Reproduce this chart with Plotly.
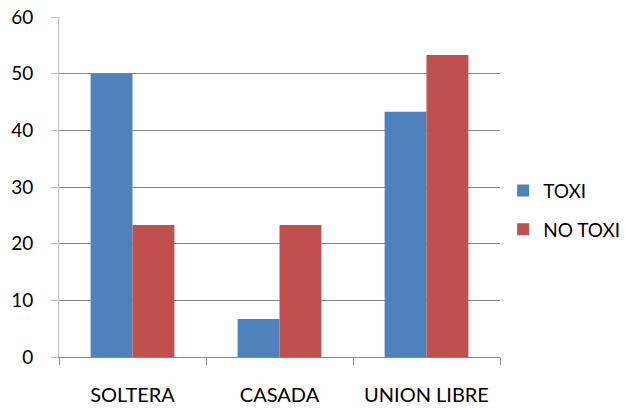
import plotly.graph_objects as go

categories = ["SOLTERA", "CASADA", "UNION LIBRE"]
toxi = [50.0, 6.7, 43.3]
no_toxi = [23.3, 23.3, 53.3]
y_ticks = [0, 10, 20, 30, 40, 50, 60]

FONT = "Lato, Liberation Sans, sans-serif"

fig = go.Figure()
fig.add_trace(go.Bar(x=categories, y=toxi, name="TOXI", marker_color="#4F81BD",
                     marker_line_width=0, legendgroup="a"))
fig.add_trace(go.Bar(x=categories, y=no_toxi, name="NO TOXI", marker_color="#C0504D",
                     marker_line_width=0, legendgroup="b"))

fig.update_layout(
    width=625, height=408,
    margin=dict(l=59, r=125, t=17, b=51, autoexpand=False),
    paper_bgcolor="white", plot_bgcolor="white",
    barmode="group", bargap=0.43, bargroupgap=0,
    font=dict(family=FONT, size=19, color="black"),
    legend=dict(xref="container", yref="container", x=0.805, y=0.485,
                xanchor="left", yanchor="middle",
                traceorder="grouped", tracegroupgap=11,
                font=dict(size=19), itemwidth=30),
    showlegend=True,
)
fig.update_xaxes(showgrid=False, showline=True, linecolor="#868686", linewidth=1,
                 ticks="outside", ticklen=7, tickcolor="#868686",
                 tickson="boundaries", tickfont=dict(size=20), zeroline=False,
                 ticklabelstandoff=20)
fig.update_yaxes(range=[0, 60], tickvals=y_ticks, showgrid=True, gridcolor="#868686",
                 gridwidth=1, showline=True, linecolor="#BFBFBF", linewidth=1,
                 ticks="outside", ticklen=7, tickcolor="#BFBFBF",
                 tickfont=dict(size=19), zeroline=False, ticklabelstandoff=14)

fig.write_html("out.html")
